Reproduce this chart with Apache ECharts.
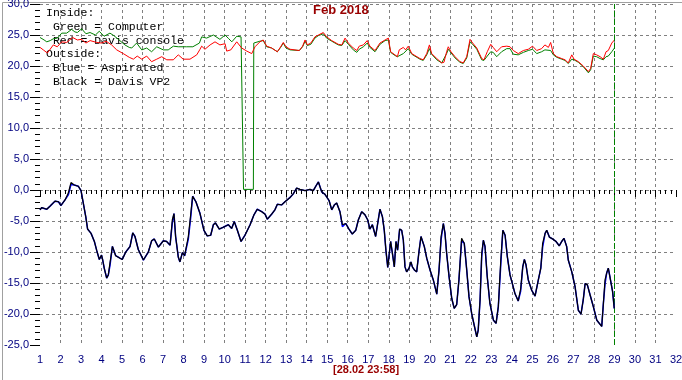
<!DOCTYPE html>
<html><head><meta charset="utf-8">
<script src="https://cdn.jsdelivr.net/npm/echarts/dist/echarts.min.js"></script>
<style>html,body{margin:0;padding:0;background:#fff}#c{width:682px;height:380px}</style>
</head><body><div id="c"></div>
<script>
const titleText = 'Feb 2018';
const subText = '[28.02 23:58]';
const unitName = '°C';
const legendLines = ['Inside:', ' Green = Computer', ' Red = Davis console', 'Outside:', ' Blue = Aspirated', ' Black = Davis VP2'];
const dayMin = 1, dayMax = 32, tempMin = -25, tempMax = 30, tempStep = 5;
const lastDataDay = 29;

// Inside, green = Computer  [day, °C]
const greenData = [[1.0,24.6],[1.2,24.2],[1.33,23.9],[1.5,24.1],[1.65,24.4],[1.85,24.5],[2.06,25.3],[2.3,25.3],[2.54,25.9],[2.7,25.5],[2.82,25.4],[3.03,26.0],[3.24,25.2],[3.44,25.4],[3.7,25.0],[3.89,25.6],[4.12,24.8],[4.41,25.3],[4.6,24.9],[4.82,24.3],[5.14,23.4],[5.35,23.0],[5.47,22.9],[5.71,23.7],[5.96,22.6],[6.2,22.9],[6.44,22.3],[6.69,23.1],[7.01,22.6],[7.25,22.6],[7.5,23.2],[7.74,23.1],[8.15,23.1],[8.45,23.1],[8.77,23.7],[8.88,24.7],[9.12,24.5],[9.45,25.0],[9.77,24.3],[10.02,25.0],[10.2,24.4],[10.35,23.9],[10.59,24.8],[10.8,24.7],[10.85,24.6],[10.86,12.4],[10.91,12.4],[10.92,0.1],[11.4,0.1],[11.42,23.7],[11.72,24.0],[11.88,24.1],[12.05,23.1],[12.29,22.9],[12.57,22.3],[12.73,23.0],[12.86,23.7],[12.99,22.9],[13.19,22.6],[13.64,22.5],[13.8,23.1],[13.92,24.0],[14.03,23.3],[14.2,23.5],[14.4,24.5],[14.57,24.9],[14.81,25.2],[14.97,24.5],[15.22,24.0],[15.54,23.4],[15.71,23.3],[15.87,24.1],[16.03,23.5],[16.27,22.6],[16.44,22.2],[16.56,22.7],[16.76,23.1],[16.95,23.7],[17.08,23.0],[17.33,22.3],[17.57,23.5],[17.82,24.1],[17.98,24.2],[18.09,22.2],[18.3,21.7],[18.42,21.5],[18.71,22.0],[18.95,22.8],[19.12,21.9],[19.52,21.1],[19.68,20.9],[19.85,21.8],[19.98,22.8],[20.09,21.9],[20.34,21.0],[20.58,20.5],[20.82,22.0],[20.9,22.7],[21.23,21.3],[21.47,20.6],[21.63,20.4],[21.8,21.3],[21.96,23.9],[22.09,23.5],[22.29,22.7],[22.53,21.0],[22.64,20.9],[22.8,21.6],[22.97,22.3],[23.09,22.2],[23.26,21.5],[23.5,22.3],[23.75,22.8],[23.91,22.8],[24.07,21.9],[24.31,21.8],[24.56,22.2],[24.8,22.5],[25.01,22.7],[25.21,22.0],[25.45,22.3],[25.61,22.6],[25.89,22.5],[26.02,21.8],[26.19,21.4],[26.43,21.1],[26.59,20.9],[26.75,20.4],[26.92,21.1],[27.03,21.0],[27.24,20.6],[27.48,19.9],[27.73,18.9],[27.84,19.4],[27.97,21.6],[28.13,21.5],[28.3,21.2],[28.46,21.0],[28.59,21.5],[28.7,21.6],[28.87,22.3],[29.0,22.9]];

// Inside, red = Davis console
const redData = [[1.0,23.0],[1.16,22.6],[1.36,22.1],[1.65,23.4],[1.84,23.1],[2.06,23.9],[2.3,23.8],[2.59,24.6],[2.82,24.2],[3.03,24.3],[3.24,23.7],[3.44,24.1],[3.76,23.8],[4.01,23.7],[4.22,24.0],[4.49,23.4],[4.74,22.6],[5.06,22.0],[5.35,21.4],[5.55,21.1],[5.74,21.6],[5.96,21.1],[6.2,21.6],[6.44,20.7],[6.69,21.1],[6.93,21.5],[7.18,21.0],[7.5,21.0],[7.74,21.8],[7.98,21.1],[8.31,21.1],[8.64,21.8],[8.8,22.7],[8.88,23.2],[9.04,22.7],[9.29,23.4],[9.53,23.9],[9.77,23.4],[10.02,23.6],[10.1,22.4],[10.3,22.6],[10.59,23.9],[10.83,22.9],[11.08,22.4],[11.32,22.0],[11.37,21.8],[11.48,23.1],[11.72,23.9],[11.88,24.2],[12.05,23.2],[12.29,22.9],[12.57,22.3],[12.73,23.1],[12.86,23.8],[12.99,23.1],[13.19,22.7],[13.64,22.5],[13.8,23.2],[13.92,24.2],[14.03,23.4],[14.2,23.7],[14.4,24.7],[14.57,25.0],[14.81,25.4],[14.97,24.7],[15.22,24.1],[15.54,23.5],[15.71,23.4],[15.87,24.5],[16.03,23.7],[16.27,22.9],[16.44,22.5],[16.56,23.2],[16.76,23.4],[16.95,24.1],[17.08,23.2],[17.33,22.5],[17.57,23.7],[17.82,24.2],[17.98,24.5],[18.09,22.3],[18.3,21.8],[18.42,21.5],[18.51,22.6],[18.71,23.0],[18.82,22.6],[18.95,23.2],[19.12,22.0],[19.52,21.2],[19.68,21.0],[19.85,22.0],[19.98,23.4],[20.09,22.0],[20.34,21.2],[20.58,20.5],[20.69,20.6],[20.82,22.3],[20.9,23.1],[21.03,22.3],[21.23,21.5],[21.47,20.7],[21.63,20.5],[21.8,21.5],[21.96,24.3],[22.09,23.7],[22.29,22.9],[22.53,21.2],[22.64,21.0],[22.8,22.3],[22.97,23.5],[23.09,23.0],[23.26,22.3],[23.5,23.1],[23.75,23.2],[23.91,23.1],[24.07,22.5],[24.31,22.0],[24.56,22.5],[24.8,22.7],[25.01,23.2],[25.21,22.5],[25.45,22.8],[25.61,23.4],[25.78,23.0],[25.89,23.8],[26.02,22.0],[26.19,21.5],[26.43,21.2],[26.59,21.0],[26.75,20.5],[26.92,21.8],[27.03,21.1],[27.24,20.7],[27.48,20.0],[27.73,19.1],[27.84,19.6],[27.97,22.0],[28.13,21.8],[28.3,21.5],[28.46,21.1],[28.59,22.3],[28.7,22.5],[28.87,23.7],[29.0,24.2]];

// Outside: sample times (day) shared by blue and black
const outT = [1.0,1.08,1.33,1.49,1.73,1.9,2.02,2.22,2.38,2.51,2.67,2.87,3.0,3.11,3.23,3.32,3.49,3.65,3.76,3.89,4.0,4.05,4.13,4.25,4.33,4.41,4.53,4.6,4.69,4.9,5.01,5.18,5.39,5.52,5.63,5.79,6.04,6.28,6.44,6.57,6.77,7.01,7.17,7.34,7.45,7.53,7.61,7.74,7.82,7.94,8.05,8.12,8.23,8.35,8.44,8.6,8.8,8.99,9.15,9.32,9.45,9.55,9.74,9.93,10.18,10.34,10.47,10.62,10.8,10.99,11.24,11.43,11.59,11.81,11.97,12.08,12.29,12.45,12.57,12.78,12.94,13.19,13.35,13.51,13.67,13.92,14.16,14.32,14.44,14.57,14.73,14.89,15.09,15.22,15.35,15.46,15.62,15.74,15.9,16.06,16.22,16.39,16.52,16.68,16.84,16.97,17.08,17.2,17.29,17.36,17.46,17.57,17.69,17.78,17.86,17.95,18.01,18.09,18.19,18.27,18.35,18.43,18.53,18.63,18.71,18.79,18.87,18.99,19.08,19.15,19.25,19.36,19.47,19.57,19.63,19.73,19.85,20.01,20.17,20.34,20.45,20.55,20.66,20.74,20.82,20.94,21.07,21.19,21.31,21.42,21.55,21.68,21.8,21.91,22.04,22.17,22.29,22.36,22.45,22.53,22.61,22.69,22.8,22.93,23.1,23.23,23.34,23.46,23.56,23.67,23.78,23.91,24.04,24.15,24.31,24.43,24.53,24.61,24.69,24.8,24.97,25.13,25.29,25.41,25.5,25.62,25.7,25.83,25.99,26.15,26.31,26.43,26.54,26.67,26.75,26.92,27.08,27.24,27.37,27.48,27.57,27.68,27.81,27.97,28.14,28.26,28.38,28.46,28.54,28.62,28.7,28.78,28.91,28.99];

// Outside, black = Davis VP2
const blackV = [-3.2,-2.85,-3.1,-2.6,-1.8,-1.9,-2.5,-1.6,-0.5,1.2,0.8,0.6,-0.1,-2.1,-4.3,-6.3,-7.0,-8.3,-9.7,-11.2,-10.5,-11.2,-12.6,-14.2,-13.7,-11.8,-9.1,-9.0,-10.6,-11.0,-11.2,-10.0,-9.1,-6.9,-7.5,-9.6,-11.3,-10.0,-8.2,-7.9,-9.2,-8.2,-8.3,-8.9,-4.8,-3.8,-7.5,-10.8,-11.6,-10.1,-10.6,-10.9,-7.5,-3.8,-1.0,-1.9,-3.8,-6.5,-7.4,-7.3,-5.6,-5.3,-6.3,-6.0,-5.6,-6.2,-5.1,-6.5,-8.3,-7.3,-5.6,-4.0,-3.1,-3.5,-3.9,-4.7,-3.9,-3.2,-2.3,-2.4,-1.9,-1.2,-0.6,0.3,0.1,-0.1,0.1,-0.1,0.6,1.3,-0.3,-0.7,-1.7,-3.2,-2.4,-2.1,-3.5,-5.6,-5.4,-6.3,-7.1,-6.5,-4.8,-3.5,-4.0,-4.8,-6.3,-5.6,-5.9,-7.5,-5.4,-3.1,-4.3,-6.5,-9.7,-12.5,-12.8,-8.3,-10.5,-12.4,-8.3,-9.7,-6.3,-6.5,-8.1,-12.4,-13.2,-12.6,-11.6,-12.4,-12.9,-13.2,-10.0,-7.5,-7.4,-9.1,-11.0,-12.9,-14.5,-16.8,-12.9,-7.5,-5.4,-7.0,-10.2,-14.0,-17.5,-19.1,-18.5,-14.5,-7.8,-8.6,-12.9,-17.2,-19.9,-21.9,-23.7,-22.6,-17.7,-10.2,-8.1,-9.1,-14.0,-18.3,-21.0,-21.5,-18.8,-11.3,-6.5,-7.3,-10.8,-13.7,-15.3,-16.7,-17.9,-15.9,-12.4,-11.2,-12.1,-14.5,-16.2,-17.1,-14.5,-12.6,-8.6,-7.0,-6.5,-7.6,-7.9,-8.3,-9.0,-8.3,-7.8,-9.1,-11.3,-13.2,-15.6,-19.4,-20.0,-17.7,-15.1,-15.3,-16.9,-18.8,-21.0,-21.5,-22.0,-18.3,-14.5,-13.4,-12.6,-14.0,-16.4,-19.1];

// Outside, blue = Aspirated (almost identical, differs on some rising edges)
const blueV = [-3.2,-2.85,-3.1,-2.6,-1.8,-1.9,-2.5,-1.6,-0.8,0.9,0.8,0.6,-0.1,-2.1,-4.3,-6.3,-7.0,-8.3,-9.7,-11.2,-10.5,-11.2,-12.6,-14.2,-13.7,-12.2,-9.1,-9.0,-10.6,-11.0,-11.2,-10.0,-9.1,-6.9,-7.5,-9.6,-11.3,-10.0,-8.2,-7.9,-9.2,-8.2,-8.3,-8.9,-5.3,-3.8,-7.5,-10.8,-11.6,-10.1,-10.6,-10.9,-7.9,-4.3,-1.0,-1.9,-3.8,-6.5,-7.4,-7.3,-5.6,-5.3,-6.3,-6.0,-5.6,-6.2,-5.1,-6.5,-8.3,-7.3,-5.6,-4.0,-3.1,-3.5,-3.9,-4.7,-3.9,-3.2,-2.3,-2.4,-1.9,-1.2,-0.6,0.3,0.1,-0.1,0.1,-0.1,0.6,1.3,-0.3,-0.7,-1.7,-3.2,-2.4,-2.1,-3.5,-5.9,-5.4,-6.3,-7.1,-6.5,-4.8,-3.5,-4.0,-4.8,-6.3,-5.6,-5.9,-7.5,-5.4,-3.1,-4.3,-6.5,-9.7,-12.5,-12.8,-8.3,-10.5,-12.4,-8.3,-9.7,-6.3,-6.5,-8.1,-12.4,-13.2,-12.6,-11.6,-12.4,-12.9,-13.2,-10.0,-7.5,-7.4,-9.1,-11.0,-12.9,-14.5,-16.8,-12.9,-8.0,-5.4,-7.0,-10.2,-14.0,-17.5,-19.1,-18.5,-14.5,-8.2,-8.6,-12.9,-17.2,-19.9,-21.9,-23.7,-22.6,-17.7,-10.8,-8.1,-9.1,-14.0,-18.3,-21.0,-21.5,-18.8,-12.0,-6.5,-7.3,-10.8,-13.7,-15.3,-16.7,-17.9,-16.3,-12.4,-11.2,-12.1,-14.5,-16.2,-17.1,-14.5,-12.6,-9.2,-7.0,-6.5,-7.6,-7.9,-8.3,-9.0,-8.3,-7.8,-9.1,-11.3,-13.2,-15.6,-19.4,-20.0,-17.7,-15.1,-15.3,-16.9,-18.8,-21.0,-21.5,-22.0,-18.3,-15.2,-13.4,-12.6,-14.0,-16.4,-19.1];

const pair = (ts, vs) => ts.map((t, i) => [t, vs[i]]);
const fmt = v => v.toFixed(1).replace('.', ',');
const gridColor = '#808080';
const axisFont = { color: '#000080', fontSize: 11, fontFamily: 'Liberation Sans, Arial, sans-serif' };

const chart = echarts.init(document.getElementById('c'), null, { renderer: 'canvas' });
chart.setOption({
  animation: false,
  backgroundColor: '#ffffff',
  title: [
    { text: titleText, left: 313, top: 4, padding: 0,
      textStyle: { color: '#990000', fontSize: 13, fontWeight: 'bold', fontFamily: 'Liberation Sans, Arial, sans-serif' } },
    { text: subText, left: 333, top: 364, padding: 0,
      textStyle: { color: '#990000', fontSize: 11, fontWeight: 'bold', fontFamily: 'Liberation Sans, Arial, sans-serif' } }
  ],
  grid: { left: 40, top: 4, width: 636, height: 341, containLabel: false, outerBoundsMode: 'none' },
  xAxis: {
    type: 'value', min: dayMin, max: dayMax, interval: 1,
    axisLine: { show: false },
    axisTick: { show: true, length: 7, lineStyle: { color: '#000', width: 1 } },
    minorTick: { show: true, splitNumber: 4, length: 4, lineStyle: { color: '#000', width: 1 } },
    axisLabel: Object.assign({ margin: 9, formatter: v => String(v) }, axisFont),
    splitLine: { show: true, showMinLine: false, showMaxLine: false, lineStyle: { color: gridColor, type: [3, 3], width: 1 } }
  },
  yAxis: {
    type: 'value', min: tempMin, max: tempMax, interval: tempStep,
    name: unitName, nameLocation: 'middle', nameGap: 29, nameRotate: 90,
    nameTextStyle: { color: '#990000', fontSize: 11, fontFamily: 'Liberation Sans, Arial, sans-serif' },
    axisLine: { show: false },
    axisTick: { show: true, length: 10, lineStyle: { color: '#000', width: 1 } },
    minorTick: { show: true, splitNumber: 5, length: 5, lineStyle: { color: '#000', width: 1 } },
    axisLabel: Object.assign({ margin: 11, formatter: v => fmt(v) }, axisFont),
    splitLine: { show: true, showMinLine: false, showMaxLine: true, lineStyle: { color: gridColor, type: [3, 3], width: 1 } }
  },
  graphic: legendLines.map((s, i) => ({
    type: 'text', left: 46, top: 7 + i * 13.8, z: 1, silent: true,
    style: { text: s, fill: '#000', font: '11.5px "Liberation Mono", "Courier New", monospace' }
  })).concat([{
    type: 'rect', left: 0, top: 0, z: 0, silent: true,
    shape: { x: 0.5, y: 0.5, width: 681, height: 379 },
    style: { fill: 'none', stroke: '#a0a0a0', lineWidth: 1 }
  }]),
  series: [
    { name: 'Green', type: 'line', data: greenData, showSymbol: false, z: 3,
      lineStyle: { color: '#008000', width: 1 },
      markLine: { silent: true, symbol: 'none', label: { show: false },
        lineStyle: { color: '#008000', type: [6, 2], width: 1 },
        data: [{ xAxis: lastDataDay }] } },
    { name: 'Red', type: 'line', data: redData, showSymbol: false, z: 4,
      lineStyle: { color: '#ff0000', width: 1 } },
    { name: 'Blue', type: 'line', data: pair(outT, blueV), showSymbol: false, z: 5,
      lineStyle: { color: '#0000ff', width: 1.5 } },
    { name: 'Black', type: 'line', data: pair(outT, blackV), showSymbol: false, z: 6,
      lineStyle: { color: '#000000', width: 1.2 } }
  ]
});
</script>
</body></html>
